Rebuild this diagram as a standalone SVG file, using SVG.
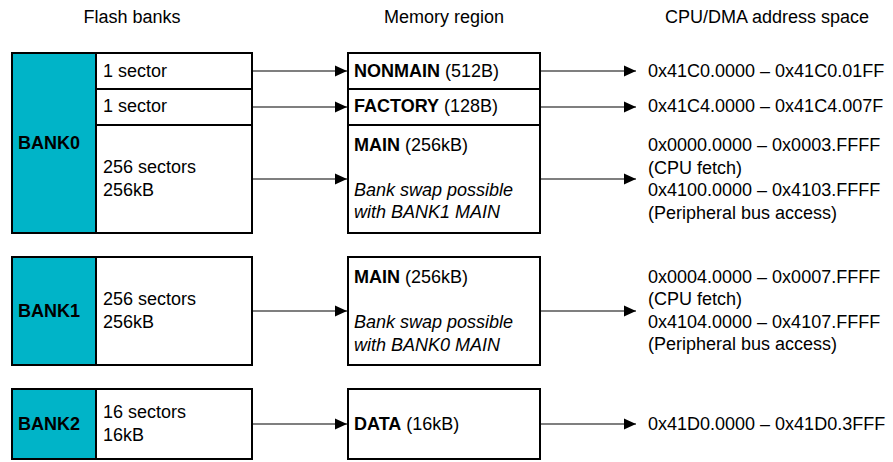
<svg xmlns="http://www.w3.org/2000/svg" width="893" height="462" viewBox="0 0 893 462">
<style>
text{font-family:"Liberation Sans",Arial,sans-serif;font-size:18px;fill:#000}
.h{font-size:18px;text-anchor:middle}
.b{font-weight:bold}
.i{font-style:italic}
.box{fill:#fff;stroke:#000;stroke-width:2}
.teal{fill:#00b4c8;stroke:#000;stroke-width:2}
.div{stroke:#000;stroke-width:2;fill:none}
.con{stroke:#000;stroke-width:1.2;fill:none;marker-end:url(#ah)}
</style>
<defs>
<marker id="ah" viewBox="0 0 12 12" refX="12" refY="6" markerWidth="12" markerHeight="12" markerUnits="userSpaceOnUse" orient="auto">
<path d="M0,0.5 L12,6 L0,11.5 Z" fill="#000"/>
</marker>
</defs>
<g id="headers">
<text class="h" x="132" y="23">Flash banks</text>
<text class="h" x="444" y="23">Memory region</text>
<text class="h" x="767" y="23">CPU/DMA address space</text>
</g>
<g id="bank0">
<rect class="box" x="12" y="53" width="240" height="180"/>
<rect class="teal" x="12" y="53" width="84" height="180"/>
<line class="div" x1="96" y1="89" x2="252" y2="89"/>
<line class="div" x1="96" y1="125" x2="252" y2="125"/>
<text class="b" x="18" y="149">BANK0</text>
<text x="103" y="77">1 sector</text>
<text x="103" y="112">1 sector</text>
<text x="103" y="173">256 sectors</text>
<text x="103" y="196">256kB</text>
</g>
<g id="bank1">
<rect class="box" x="12" y="257" width="240" height="108"/>
<rect class="teal" x="12" y="257" width="84" height="108"/>
<text class="b" x="18" y="317">BANK1</text>
<text x="103" y="305">256 sectors</text>
<text x="103" y="328">256kB</text>
</g>
<g id="bank2">
<rect class="box" x="12" y="389" width="240" height="70"/>
<rect class="teal" x="12" y="389" width="84" height="70"/>
<text class="b" x="18" y="430">BANK2</text>
<text x="103" y="418">16 sectors</text>
<text x="103" y="441">16kB</text>
</g>
<g id="region0">
<rect class="box" x="348" y="53" width="192" height="180"/>
<line class="div" x1="348" y1="89" x2="540" y2="89"/>
<line class="div" x1="348" y1="125" x2="540" y2="125"/>
<text x="354" y="77"><tspan class="b">NONMAIN</tspan> (512B)</text>
<text x="354" y="112"><tspan class="b">FACTORY</tspan> (128B)</text>
<text x="354" y="151"><tspan class="b">MAIN</tspan> (256kB)</text>
<text class="i" x="354" y="196">Bank swap possible</text>
<text class="i" x="354" y="218">with BANK1 MAIN</text>
</g>
<g id="region1">
<rect class="box" x="348" y="257" width="192" height="108"/>
<text x="354" y="283"><tspan class="b">MAIN</tspan> (256kB)</text>
<text class="i" x="354" y="328">Bank swap possible</text>
<text class="i" x="354" y="351">with BANK0 MAIN</text>
</g>
<g id="region2">
<rect class="box" x="348" y="389" width="192" height="70"/>
<text x="354" y="430"><tspan class="b">DATA</tspan> (16kB)</text>
</g>
<g id="addresses">
<text x="648" y="77">0x41C0.0000 – 0x41C0.01FF</text>
<text x="648" y="112">0x41C4.0000 – 0x41C4.007F</text>
<text x="648" y="151">0x0000.0000 – 0x0003.FFFF</text>
<text x="648" y="174">(CPU fetch)</text>
<text x="648" y="196">0x4100.0000 – 0x4103.FFFF</text>
<text x="648" y="219">(Peripheral bus access)</text>
<text x="648" y="283">0x0004.0000 – 0x0007.FFFF</text>
<text x="648" y="305">(CPU fetch)</text>
<text x="648" y="328">0x4104.0000 – 0x4107.FFFF</text>
<text x="648" y="350">(Peripheral bus access)</text>
<text x="648" y="430">0x41D0.0000 – 0x41D0.3FFF</text>
</g>
<g id="connectors">
<line class="con" x1="252" y1="71" x2="347" y2="71"/>
<line class="con" x1="252" y1="107" x2="347" y2="107"/>
<line class="con" x1="252" y1="179" x2="347" y2="179"/>
<line class="con" x1="252" y1="311" x2="347" y2="311"/>
<line class="con" x1="252" y1="424" x2="347" y2="424"/>
<line class="con" x1="540" y1="71" x2="636" y2="71"/>
<line class="con" x1="540" y1="107" x2="636" y2="107"/>
<line class="con" x1="540" y1="179" x2="636" y2="179"/>
<line class="con" x1="540" y1="311" x2="636" y2="311"/>
<line class="con" x1="540" y1="424" x2="636" y2="424"/>
</g>
</svg>
